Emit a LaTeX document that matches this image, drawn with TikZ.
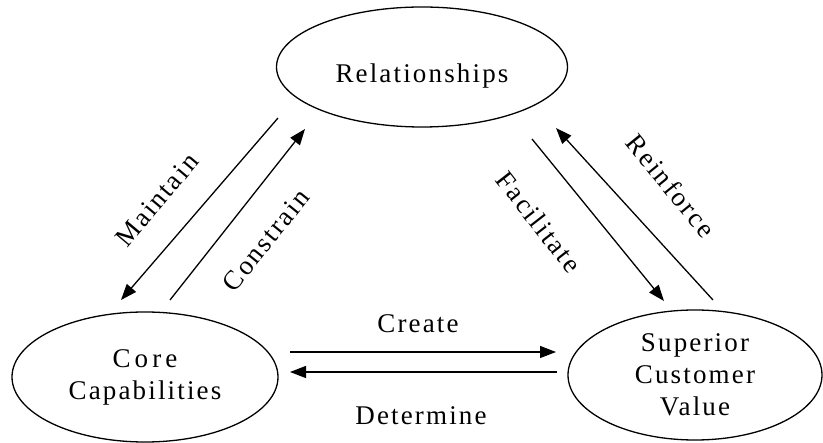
\documentclass[tikz,border=0pt]{standalone}
\usepackage{fontspec}
\setmainfont{Liberation Serif}[LetterSpace=8]
\usetikzlibrary{shapes.geometric,arrows.meta}
\begin{document}
\begin{tikzpicture}[x=1pt,y=-1pt,
  ell/.style={draw, ellipse, line width=1.3pt, inner sep=0pt, align=center,
    font=\fontsize{27}{32}\selectfont},
  lab/.style={font=\fontsize{27}{32}\selectfont, inner sep=0pt},
  arr/.style={line width=1.3pt, -{Triangle[length=16pt,width=12pt]}}]
\useasboundingbox (0,0) rectangle (823,443);
\node[ell, minimum width=291pt, minimum height=120pt, text height=32pt, text depth=0pt] (rel) at (422,67) {Relationships};
\node[ell, minimum width=266pt, minimum height=130pt] (core) at (145,377) {{\addfontfeature{LetterSpace=15}Core}\\Capabilities};
\node[ell, minimum width=254pt, minimum height=130pt] (scv) at (695,375) {Superior\\Customer\\Value};
% arrow end points
\coordinate (m1) at (278,118); \coordinate (m2) at (121,300);
\coordinate (c1) at (170,300); \coordinate (c2) at (305,129);
\coordinate (f1) at (532,139); \coordinate (f2) at (664,301);
\coordinate (r1) at (713,300); \coordinate (r2) at (556,128);
\coordinate (cr1) at (290,352); \coordinate (cr2) at (556,352);
\coordinate (d1) at (557,372); \coordinate (d2) at (290,372);
\draw[arr] (m1) -- (m2);
\draw[arr] (c1) -- (c2);
\draw[arr] (f1) -- (f2);
\draw[arr] (r1) -- (r2);
\draw[arr] (cr1) -- (cr2);
\draw[arr] (d1) -- (d2);
\node[lab, rotate=50] (lm) at (157,200) {Maintain};
\node[lab, rotate=51] (lc) at (266,240) {Constrain};
\node[lab, rotate=-52] (lf) at (539,222) {Facilitate};
\node[lab, rotate=-51] (lr) at (671,186) {Reinforce};
\node[lab] (lcr) at (418,324) {Create};
\node[lab] (ld) at (421,416) {Determine};
\end{tikzpicture}
\end{document}
